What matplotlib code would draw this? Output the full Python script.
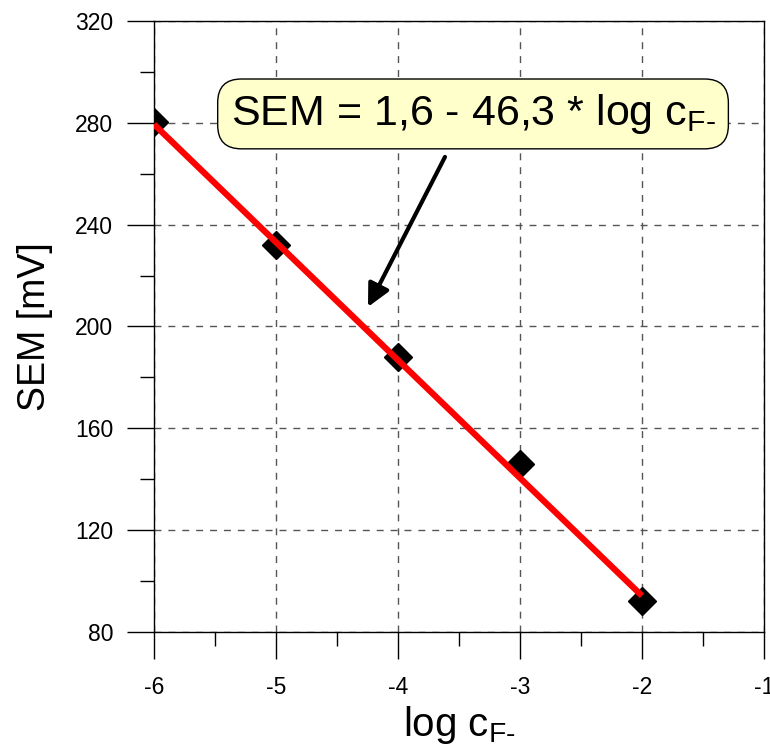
import matplotlib
matplotlib.use('Agg')
import matplotlib.pyplot as plt
from matplotlib.ticker import MultipleLocator

plt.rcParams['font.family'] = ['Liberation Sans', 'DejaVu Sans']
plt.rcParams['mathtext.fontset'] = 'custom'
plt.rcParams['mathtext.rm'] = 'Liberation Sans'
plt.rcParams['mathtext.it'] = 'Liberation Sans:italic'
plt.rcParams['axes.unicode_minus'] = False

# measured points
log_c = [-6, -5, -4, -3, -2]
sem = [280.5, 232, 188, 146, 92]

# fitted line SEM = 1,6 - 46,3 * log c
fit_x = [-6, -2]
fit_y = [279.4, 94.2]

fig = plt.figure(figsize=(7.7, 7.54), dpi=100)
ax = fig.add_axes([154/770, 1 - 632/754, (764-154)/770, (632-21)/754])

ax.plot(log_c, sem, linestyle='none', marker='D', markersize=14.5,
        color='black', zorder=3)
ax.plot(fit_x, fit_y, color='#ff0000', lw=4.5, zorder=4, solid_capstyle='butt')

ax.set_xlim(-6, -1)
ax.set_ylim(80, 320)
ax.xaxis.set_major_locator(MultipleLocator(1))
ax.xaxis.set_minor_locator(MultipleLocator(0.5))
ax.yaxis.set_major_locator(MultipleLocator(40))
ax.yaxis.set_minor_locator(MultipleLocator(20))
ax.tick_params(which='major', direction='out', length=19.5, width=1, labelsize=16.5)
ax.tick_params(axis='y', which='major', pad=10)
ax.tick_params(axis='x', which='major', pad=12)
ax.tick_params(which='minor', direction='out', length=10, width=1)
ax.grid(True, which='major', color='#555555', linestyle=(0, (5, 5)), lw=1)
ax.set_axisbelow(True)
for s in ax.spines.values():
    s.set_linewidth(1)

ax.set_xlabel(r'log c$_{\mathrm{F\text{-}}}$', fontsize=29, labelpad=4)
ax.set_ylabel('SEM [mV]', fontsize=27, labelpad=16)

ax.text(-3.385, 283.5, r'SEM = 1,6 - 46,3 * log c$_{\mathrm{F\text{-}}}$',
        fontsize=31, ha='center', va='center', zorder=6,
        bbox=dict(boxstyle='round,pad=0.3,rounding_size=0.55',
                  facecolor='#ffffcc', edgecolor='black', lw=1))

ax.annotate('', xy=(-4.246, 207.7), xytext=(-3.615, 266.6),
            arrowprops=dict(arrowstyle='-|>', lw=3, color='black',
                            mutation_scale=34, shrinkA=0, shrinkB=0),
            zorder=5)

fig.savefig('out.png', dpi=100)
